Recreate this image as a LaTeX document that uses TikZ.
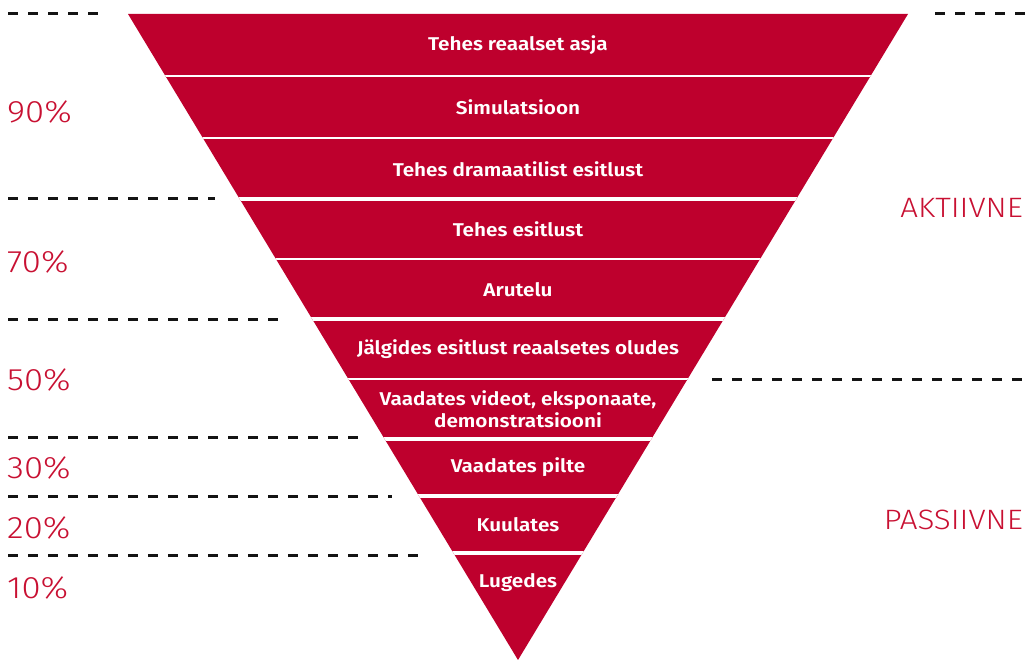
\documentclass[tikz,border=0pt]{standalone}
\usepackage{fontspec}
\setmainfont{Fira Sans}
\newfontfamily\lightfont[FakeStretch=1.12]{Fira Sans Light}
\newfontfamily\bandfont[FakeStretch=1.12]{Fira Sans SemiBold}
\definecolor{pyrred}{RGB}{190,0,45}
\definecolor{labred}{RGB}{200,16,50}
\begin{document}
\begin{tikzpicture}[x=1pt,y=-1pt,
  dashline/.style={line width=3pt,draw=black!92,dash pattern=on 10pt off 10pt},
  bandtext/.style={text=white,font=\bandfont\fontsize{18.5}{22}\selectfont,align=center,inner sep=0pt},
  pct/.style={text=labred,font=\lightfont\fontsize{31}{31}\selectfont,anchor=west,inner sep=0pt},
  side/.style={text=labred,font=\lightfont\fontsize{28}{28}\selectfont,anchor=east,inner sep=0pt},
  thinsep/.style={draw=white,line width=1.5pt},
  thicksep/.style={draw=white,line width=4pt}]
\useasboundingbox (0,0) rectangle (1027,660);
\coordinate (tl) at (128,14);
\coordinate (tr) at (908,14);
\coordinate (ap) at (518,660);
\fill[pyrred] (tl) -- (tr) -- (ap) -- cycle;
\begin{scope}
\clip (tl) -- (tr) -- (ap) -- cycle;
\foreach \yy in {76,138,259,379} \draw[thinsep] (100,\yy) -- (940,\yy);
\foreach \yy in {199,319,439,496,553} \draw[thicksep] (100,\yy) -- (940,\yy);
\end{scope}
% dashed lines
\coordinate (d1a) at (8,14);   \coordinate (d1b) at (102,14);
\coordinate (d2a) at (8,199);  \coordinate (d2b) at (215,199);
\coordinate (d3a) at (8,319);  \coordinate (d3b) at (288,319);
\coordinate (d4a) at (8,437);  \coordinate (d4b) at (359,437);
\coordinate (d5a) at (8,496);  \coordinate (d5b) at (392,496);
\coordinate (d6a) at (8,555);  \coordinate (d6b) at (428,555);
\coordinate (r1a) at (935,14); \coordinate (r1b) at (1027,14);
\coordinate (r2a) at (712,379);\coordinate (r2b) at (1027,379);
\foreach \p in {d1,d2,d3,d4,d5,d6,r1,r2} \draw[dashline] (\p a) -- (\p b);
% band texts
\node[bandtext] (b1) at (518,45) {Tehes reaalset asja};
\node[bandtext] (b2) at (518,107) {Simulatsioon};
\node[bandtext] (b3) at (518,169) {Tehes dramaatilist esitlust};
\node[bandtext] (b4) at (518,229) {Tehes esitlust};
\node[bandtext] (b5) at (518,290) {Arutelu};
\node[bandtext] (b6) at (518,349) {J\"algides esitlust reaalsetes oludes};
\node[bandtext] (b7) at (518,409) {Vaadates videot, eksponaate,\\demonstratsiooni};
\node[bandtext] (b8) at (518,467) {Vaadates pilte};
\node[bandtext] (b9) at (518,525) {Kuulates};
\node[bandtext] (b10) at (518,583) {Lugedes};
% percentages
\node[pct] (p90) at (7,112) {90\%};
\node[pct] (p70) at (7,262) {70\%};
\node[pct] (p50) at (7,380) {50\%};
\node[pct] (p30) at (7,468) {30\%};
\node[pct] (p20) at (7,528) {20\%};
\node[pct] (p10) at (7,588) {10\%};
\node[side] (akt) at (1023,208) {AKTIIVNE};
\node[side] (pas) at (1023,520) {PASSIIVNE};
\end{tikzpicture}
\end{document}
